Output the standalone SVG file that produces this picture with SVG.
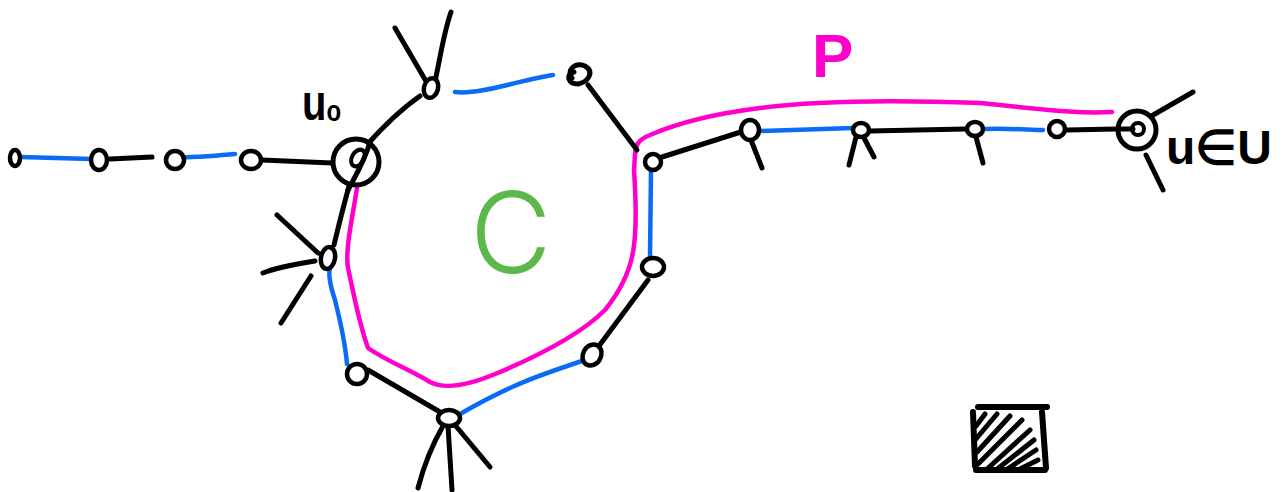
<svg xmlns="http://www.w3.org/2000/svg" width="1284" height="492" viewBox="0 0 1284 492">
<style>
.k{fill:none;stroke:#000;stroke-width:5;stroke-linecap:round;stroke-linejoin:round}
.b{fill:none;stroke:#0a6cf5;stroke-width:4.5;stroke-linecap:round;stroke-linejoin:round}
.m{fill:none;stroke:#ff00cc;stroke-width:4.5;stroke-linecap:round;stroke-linejoin:round}
.n{fill:#fff;stroke:#000;stroke-width:4.5}
.t{font-family:"Liberation Sans",Arial,sans-serif}
</style>
<rect width="1284" height="492" fill="#fff"/>
<g id="connectors">
<path class="m" d="M1112,112 C1080,114 1050,110 980,103 C900,100 820,100 760,108 C720,113 680,122 650,135 C632,142 636,150 634,170 C636,200 636,230 634,245 C632,265 625,285 605,310 C580,335 540,355 500,372 C470,385 445,390 430,382 C410,370 385,360 368,348 C358,320 353,290 348,268 C345,250 352,220 357,188"/>
<path class="b" d="M20,157 L92,159"/>
<path class="k" d="M110,159 L152,157"/>
<path class="b" d="M171,158 C195,157 215,156 235,154"/>
<path class="k" d="M262,160 L332,163"/>
<path class="k" d="M365,147 C380,130 400,110 420,96"/>
<path class="k" d="M430,88 L395,28"/>
<path class="k" d="M434,86 C440,60 443,35 451,12"/>
<path class="b" d="M455,92 C480,95 520,80 553,75"/>
<path class="k" d="M588,85 L637,150"/>
<path class="k" d="M662,157 L744,131"/>
<path class="b" d="M760,131 L853,128"/>
<path class="k" d="M870,131 L965,129"/>
<path class="b" d="M985,129 C1010,128 1030,130 1043,130"/>
<path class="k" d="M1067,130 L1116,129"/>
<path class="k" d="M1148,118 L1193,92"/>
<path class="k" d="M1146,155 L1163,190"/>
<path class="k" d="M751,140 L762,168"/>
<path class="k" d="M856,137 L849,165"/>
<path class="k" d="M863,136 L874,157"/>
<path class="k" d="M976,137 L983,163"/>
<path class="b" d="M651,170 L650,258"/>
<path class="k" d="M648,280 L596,350"/>
<path class="b" d="M582,361 C540,375 510,385 460,414"/>
<path class="k" d="M440,412 L368,370"/>
<path class="b" d="M347,364 C345,340 340,320 335,300 C330,285 328,275 330,268"/>
<path class="k" d="M334,245 C340,220 345,200 350,183"/>
<path class="k" d="M318,253 L277,215"/>
<path class="k" d="M315,261 C290,265 275,268 263,273"/>
<path class="k" d="M311,276 L281,323"/>
<path class="k" d="M443,426 C432,445 424,465 418,488"/>
<path class="k" d="M448,426 L452,490"/>
<path class="k" d="M455,425 L490,467"/>
</g>
<g id="n1"><ellipse class="n" cx="15" cy="158" rx="5" ry="8"/></g>
<g id="n2"><ellipse class="n" cx="99" cy="160" rx="8" ry="10"/></g>
<g id="n3"><ellipse class="n" cx="175" cy="160" rx="9" ry="9"/></g>
<g id="n4"><ellipse class="n" cx="251" cy="160" rx="10" ry="9"/></g>
<g id="u0">
<circle cx="356" cy="162" r="23" fill="#fff" stroke="#000" stroke-width="5"/>
<ellipse cx="358" cy="158" rx="6" ry="9" fill="none" stroke="#000" stroke-width="4" transform="rotate(30 358 158)"/>
<path class="k" d="M370,142 C365,160 356,175 348,190"/>
<text class="t" x="302" y="120" font-size="40" font-weight="bold" transform="translate(302 120) scale(1 1.25) translate(-302 -120)">u<tspan font-size="24" dy="1">o</tspan></text>
</g>
<g id="a"><ellipse class="n" cx="431" cy="88" rx="7" ry="10" transform="rotate(15 431 88)"/></g>
<g id="b"><path class="k" d="M572,78 C566,70 575,62 585,66 C595,72 588,82 578,84 C568,84 565,74 574,72"/></g>
<g id="d"><ellipse class="n" cx="653" cy="162" rx="8" ry="8"/></g>
<g id="e"><ellipse class="n" cx="750" cy="130" rx="9" ry="10"/></g>
<g id="f"><ellipse class="n" cx="861" cy="130" rx="8" ry="7"/></g>
<g id="g"><ellipse class="n" cx="975" cy="129" rx="8" ry="7"/></g>
<g id="h"><ellipse class="n" cx="1057" cy="129" rx="8" ry="8"/></g>
<g id="u">
<circle cx="1137" cy="130" r="19" fill="#fff" stroke="#000" stroke-width="5"/>
<circle cx="1138" cy="129" r="6" fill="none" stroke="#000" stroke-width="4"/>
<path class="k" d="M1133,129 L1118,129"/>
<text class="t" x="1166" y="164" font-size="48" font-weight="bold" textLength="106" lengthAdjust="spacingAndGlyphs">u∈U</text>
</g>
<g id="i"><ellipse class="n" cx="328" cy="258" rx="7" ry="11" transform="rotate(10 328 258)"/></g>
<g id="j"><ellipse class="n" cx="357" cy="374" rx="10" ry="10"/></g>
<g id="k"><ellipse class="n" cx="449" cy="418" rx="11" ry="8"/></g>
<g id="l"><ellipse class="n" cx="592" cy="355" rx="9" ry="11" transform="rotate(30 592 355)"/></g>
<g id="m"><ellipse class="n" cx="653" cy="267" rx="11" ry="9"/></g>
<g id="labels">
<text class="t" x="812" y="77" font-size="62" font-weight="bold" fill="#ff00cc">P</text>
<text x="470" y="273" font-family="Inter, 'Liberation Sans', sans-serif" font-size="112" fill="#5cb84a" font-weight="300">C</text>
</g>
<g id="square">
<path class="k" style="stroke-width:6" d="M978,407 L1047,407 M973,412 L975,466 M976,470 L1045,470 M1042,412 L1046,468"/>
<path class="k" d="M976,426 L985,414 M975,440 L997,414 M977,452 L1010,416 M978,464 L1022,420 M986,470 L1030,430 M996,470 L1034,440 M1006,470 L1036,450 M1018,470 L1038,460"/>
</g>
</svg>
